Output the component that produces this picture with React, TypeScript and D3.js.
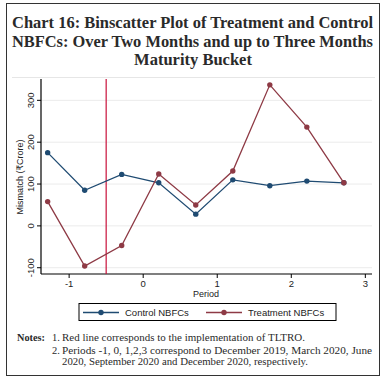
import React from "react";
import * as d3 from "d3";

const periods = [-1.29, -0.79, -0.29, 0.21, 0.71, 1.21, 1.71, 2.21, 2.71];
const controlValues = [175, 85, 123, 103, 28, 110, 96, 107, 103];
const treatmentValues = [58, -96, -47, 124, 50, 131, 337, 236, 103];
const xTicks = [-1, 0, 1, 2, 3];
const yTicks = [-100, 0, 100, 200, 300];
const tltroPeriod = -0.5;
const titleLines = [
  "Chart 16: Binscatter Plot of Treatment and Control",
  "NBFCs: Over Two Months and up to Three Months",
  "Maturity Bucket",
];
const seriesNames = ["Control NBFCs", "Treatment NBFCs"];
const noteLines = [
  "Red line corresponds to the implementation of TLTRO.",
  "Periods -1, 0, 1,2,3 correspond to December 2019, March 2020, June",
  "2020, September 2020 and December 2020, respectively.",
];

const BLUE = "#1f4b72";
const RED = "#8e3a45";
const VLINE = "#c8103a";
const SANS = "'Liberation Sans', Arial, 'DejaVu Sans', sans-serif";
const SERIF = "'Liberation Serif', 'Times New Roman', serif";

export default function App() {
  const x = d3.scaleLinear().domain([-1.38, 3.09]).range([41, 372]);
  const y = d3.scaleLinear().domain([-115, 351]).range([274, 79]);
  const line = d3
    .line<number>()
    .x((_, i) => x(periods[i]))
    .y((d) => y(d));

  const series = [
    { name: seriesNames[0], values: controlValues, color: BLUE },
    { name: seriesNames[1], values: treatmentValues, color: RED },
  ];

  return (
    <svg
      width={384}
      height={383}
      style={{ position: "absolute", left: 0, top: 0, background: "#fff" }}
    >
      <rect x={0} y={0} width={384} height={383} fill="#fff" />
      <rect x={6.5} y={3.5} width={373} height={372} fill="none" stroke="#333" strokeWidth={1} />
      {/* title */}
      <g fontFamily={SERIF} fontWeight="bold" fontSize={16.5} fill="#2a2a2a">
        <text x={12} y={28} textLength={361} lengthAdjust="spacingAndGlyphs">
          {titleLines[0]}
        </text>
        <text x={12} y={46.5} textLength={361} lengthAdjust="spacingAndGlyphs">
          {titleLines[1]}
        </text>
        <text x={193} y={65} textAnchor="middle">
          {titleLines[2]}
        </text>
      </g>
      <line x1={12} x2={375} y1={77.5} y2={77.5} stroke="#e6e6e6" strokeWidth={1} />

      {/* gridlines */}
      {yTicks.map((t) => (
        <line key={"g" + t} x1={41} x2={372} y1={y(t)} y2={y(t)} stroke="#ebebeb" strokeWidth={1} />
      ))}
      {/* axes */}
      <line x1={41} x2={41} y1={79} y2={274} stroke="#000" strokeWidth={1.2} />
      <line x1={41} x2={372} y1={274} y2={274} stroke="#000" strokeWidth={1.2} />
      {yTicks.map((t) => (
        <g key={"yt" + t}>
          <line x1={37} x2={41} y1={y(t)} y2={y(t)} stroke="#000" strokeWidth={1} />
          <text
            transform={`translate(33.5,${y(t)}) rotate(-90)`}
            textAnchor="middle"
            fontFamily={SANS}
            fontSize={9.5}
            fill="#222"
          >
            {t}
          </text>
        </g>
      ))}
      {xTicks.map((t) => (
        <g key={"xt" + t}>
          <line x1={x(t)} x2={x(t)} y1={274} y2={278} stroke="#000" strokeWidth={1} />
          <text x={x(t)} y={287} textAnchor="middle" fontFamily={SANS} fontSize={9.5} fill="#222">
            {t}
          </text>
        </g>
      ))}
      <text
        transform={`translate(23,177) rotate(-90)`}
        textAnchor="middle"
        fontFamily={SANS}
        fontSize={9}
        fill="#222"
      >
        Mismatch (₹Crore)
      </text>
      <text x={206} y={296.5} textAnchor="middle" fontFamily={SANS} fontSize={9} fill="#222">
        Period
      </text>

      {/* TLTRO line */}
      <line x1={x(tltroPeriod)} x2={x(tltroPeriod)} y1={79} y2={274} stroke={VLINE} strokeWidth={1.2} />

      {/* series */}
      {series.map((s) => (
        <g key={s.name}>
          <path d={line(s.values) || ""} fill="none" stroke={s.color} strokeWidth={1.3} />
          {s.values.map((v, i) => (
            <circle key={i} cx={x(periods[i])} cy={y(v)} r={2.7} fill={s.color} />
          ))}
        </g>
      ))}

      {/* legend */}
      <rect x={79} y={303.5} width={257} height={17} fill="#fff" stroke="#000" strokeWidth={1} />
      {series.map((s, i) => {
        const lx = i === 0 ? 83 : 206;
        const cy = 312.5;
        return (
          <g key={"lg" + s.name}>
            <line x1={lx} x2={lx + 36} y1={cy} y2={cy} stroke={s.color} strokeWidth={1.3} />
            <circle cx={lx + 18} cy={cy} r={2.7} fill={s.color} />
            <text x={lx + 42} y={cy + 3.3} fontFamily={SANS} fontSize={9.5} fill="#222">
              {s.name}
            </text>
          </g>
        );
      })}

      {/* notes */}
      <g fontFamily={SERIF} fontSize={10.5} fill="#2a2a2a">
        <text x={17} y={340.7} fontWeight="bold" textLength={28} lengthAdjust="spacingAndGlyphs">Notes:</text>
        <text x={52} y={340.7}>1.</text>
        <text x={62} y={340.7} textLength={243} lengthAdjust="spacingAndGlyphs">{noteLines[0]}</text>
        <text x={52} y={353.5}>2.</text>
        <text x={62} y={353.5} textLength={310} lengthAdjust="spacingAndGlyphs">{noteLines[1]}</text>
        <text x={62} y={364.5} textLength={246} lengthAdjust="spacingAndGlyphs">{noteLines[2]}</text>
      </g>
    </svg>
  );
}
